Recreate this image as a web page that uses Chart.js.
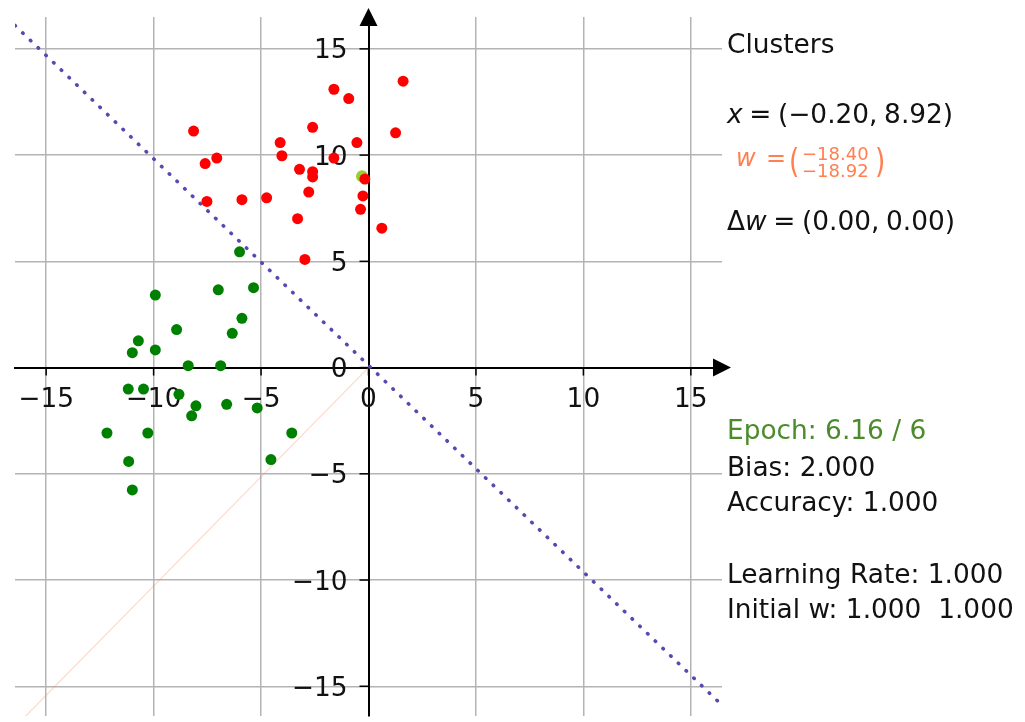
<!DOCTYPE html>
<html>
<head>
<meta charset="utf-8">
<script src="https://cdn.jsdelivr.net/npm/chart.js@4.4.1/dist/chart.umd.min.js"></script>
<style>
body { margin: 0; overflow: hidden; background: #fff; font-family: "DejaVu Sans", sans-serif; }
#wrap { position: relative; width: 1025px; height: 722px; }
.note { position: absolute; left: 727px; font-size: 26.4px; line-height: 26.4px; color: #111; white-space: nowrap; }
.wl { position: absolute; top: 146.4px; font-size: 24px; line-height: 24px; color: coral; white-space: nowrap; }
.par { position: absolute; font-size: 26.4px; line-height: 26.4px; color: coral; transform: scaleY(1.25); transform-origin: 50% 14px; }
.stack { position: absolute; left: 802px; top: 146px; font-size: 18px; line-height: 16.5px; color: coral; white-space: nowrap; }
</style>
</head>
<body>
<div id="wrap">
	<canvas id="mycanvas" width="1025" height="722"></canvas>
	<div class="note" style="top:31px">Clusters</div>
	<div class="note" style="top:101px"><i>x</i>&#8197;=&#8197;(−0.20,&#8197;8.92)</div>
	<div class="wl" style="left:736px"><i>w</i></div>
	<div class="wl" style="left:766px">=</div>
	<div class="par" style="left:789px;top:148.5px">(</div>
	<div class="stack">−18.40<br>−18.92</div>
	<div class="par" style="left:875px;top:148.5px">)</div>
	<div class="note" style="top:207.7px">Δ<i>w</i>&#8197;=&#8197;(0.00,&#8197;0.00)</div>
	<div class="note" style="top:417px;color:#4b8b2b">Epoch: 6.16 / 6</div>
	<div class="note" style="top:454.4px">Bias: 2.000</div>
	<div class="note" style="top:489.4px">Accuracy: 1.000</div>
	<div class="note" style="top:561px">Learning Rate: 1.000</div>
	<div class="note" style="top:596px">Initial w: 1.000&nbsp;&nbsp;1.000</div>
</div>
<script>
// cluster points
var redX = [-8.14, -7.60, -7.06, -7.52, -5.89, -4.74, -4.11, -4.03, -2.60, -3.21, -2.60, -2.60, -2.78,
	-3.30, -2.96, -1.61, -0.92, -0.54, -1.61, -0.17, -0.26, -0.37, 1.61, 1.26, 0.62];
var redY = [11.13, 9.60, 9.86, 7.82, 7.90, 7.99, 10.59, 9.97, 11.31, 9.33, 9.22, 8.97, 8.26,
	7.01, 5.09, 13.10, 12.66, 10.59, 9.86, 8.87, 8.08, 7.45, 13.48, 11.05, 6.56];
var greenX = [-6.00, -9.92, -6.99, -5.35, -8.93, -5.89, -6.34, -10.71, -10.99, -9.92, -8.39, -6.88,
	-11.18, -10.47, -8.82, -8.03, -8.23, -6.60, -5.18, -12.17, -10.27, -3.57, -11.16, -4.54, -10.99];
var greenY = [5.45, 3.41, 3.66, 3.76, 1.79, 2.32, 1.61, 1.26, 0.70, 0.83, 0.09, 0.09,
	-1.01, -1.01, -1.26, -1.80, -2.27, -1.73, -1.90, -3.08, -3.08, -3.08, -4.42, -4.33, -5.76];
// current sample x
var sampleX = [-0.30];
var sampleY = [9.00];
// weight vector w from the origin
var wX = [0, -18.40];
var wY = [0, -18.92];
// decision boundary end points
var boundaryX = [-16.45, 16.45];
var boundaryY = [16.10, -15.89];
var tickValues = [-15, -10, -5, 0, 5, 10, 15];

function pts(xs, ys) {
	var out = [];
	for (var i in xs) {
		out.push({x: xs[i], y: ys[i]});
	}
	return out;
}

function fmt(v) {
	return ("" + v).replace('-', '\u2212');
}

function setTicks(scale) {
	scale.ticks = tickValues.map(function(v) { return {value: v}; });
}

function noPad(scale) {
	scale.paddingLeft = 0;
	scale.paddingRight = 0;
	scale.paddingTop = 0;
	scale.paddingBottom = 0;
}

// tick marks + labels sit on the centred axes
var centerTicks = {
	id: 'centerTicks',
	beforeDatasetsDraw: function(chart) {
		var c = chart.ctx;
		var sx = chart.scales.x;
		var sy = chart.scales.y;
		var x0 = sx.getPixelForValue(0);
		var y0 = sy.getPixelForValue(0);
		c.save();
		c.strokeStyle = '#000';
		c.lineWidth = 1.5;
		c.fillStyle = '#111';
		c.font = '26.4px "DejaVu Sans"';
		c.textBaseline = 'alphabetic';
		sx.ticks.forEach(function(t) {
			var px = sx.getPixelForValue(t.value);
			c.beginPath();
			c.moveTo(px, y0);
			c.lineTo(px, y0 + 8);
			c.stroke();
			c.textAlign = 'center';
			c.fillText(fmt(t.value), px, y0 + 39.5);
		});
		sy.ticks.forEach(function(t) {
			var py = sy.getPixelForValue(t.value);
			c.beginPath();
			c.moveTo(x0 - 9, py);
			c.lineTo(x0, py);
			c.stroke();
			c.textAlign = 'right';
			c.fillText(fmt(t.value), x0 - 21, py + 9.5);
		});
		c.restore();
	}
};

var arrows = {
	id: 'arrows',
	afterDraw: function(chart) {
		var c = chart.ctx;
		var area = chart.chartArea;
		var x0 = chart.scales.x.getPixelForValue(0);
		var y0 = chart.scales.y.getPixelForValue(0);
		c.save();
		c.fillStyle = '#000';
		c.beginPath();
		c.moveTo(x0, area.top - 9);
		c.lineTo(x0 - 9, area.top + 9);
		c.lineTo(x0 + 9, area.top + 9);
		c.closePath();
		c.fill();
		c.beginPath();
		c.moveTo(area.right + 9, y0);
		c.lineTo(area.right - 9, y0 - 9);
		c.lineTo(area.right - 9, y0 + 9);
		c.closePath();
		c.fill();
		c.restore();
	}
};

var axisOpts = {
	type: 'linear',
	grid: {color: '#b4b4b4', lineWidth: 1.5, drawTicks: false},
	border: {display: true, color: '#000', width: 2},
	ticks: {display: false},
	afterBuildTicks: setTicks,
	afterFit: noPad
};

var ctx = document.getElementById('mycanvas');

var chart = new Chart(ctx, {
	type: 'scatter',
	data: {
		datasets: [
			{
				label: 'red',
				data: pts(redX, redY),
				backgroundColor: 'red',
				borderWidth: 0,
				pointRadius: 5.5
			},
			{
				label: 'green',
				data: pts(greenX, greenY),
				backgroundColor: 'green',
				borderWidth: 0,
				pointRadius: 5.5
			},
			{
				label: 'x',
				data: pts(sampleX, sampleY),
				backgroundColor: 'yellowgreen',
				borderWidth: 0,
				pointRadius: 6
			},
			{
				label: 'boundary',
				data: pts(boundaryX, boundaryY),
				showLine: true,
				borderColor: '#5a48b0',
				borderWidth: 3.6,
				borderDash: [0.5, 10.2],
				borderCapStyle: 'round',
				pointRadius: 0
			},
			{
				label: 'w',
				data: pts(wX, wY),
				showLine: true,
				borderColor: 'rgba(255, 127, 80, 0.3)',
				borderWidth: 1.2,
				pointRadius: 0
			}
		]
	},
	options: {
		responsive: false,
		animation: false,
		devicePixelRatio: 1,
		layout: {padding: {left: 15, top: 17, right: 303, bottom: 0}},
		plugins: {legend: {display: false}, tooltip: {enabled: false}},
		scales: {
			x: Object.assign({}, axisOpts, {min: -16.45, max: 16.45, position: {y: 0}}),
			y: Object.assign({}, axisOpts, {min: -16.4, max: 16.5, position: {x: 0}})
		}
	},
	plugins: [centerTicks, arrows]
});
</script>
</body>
</html>
